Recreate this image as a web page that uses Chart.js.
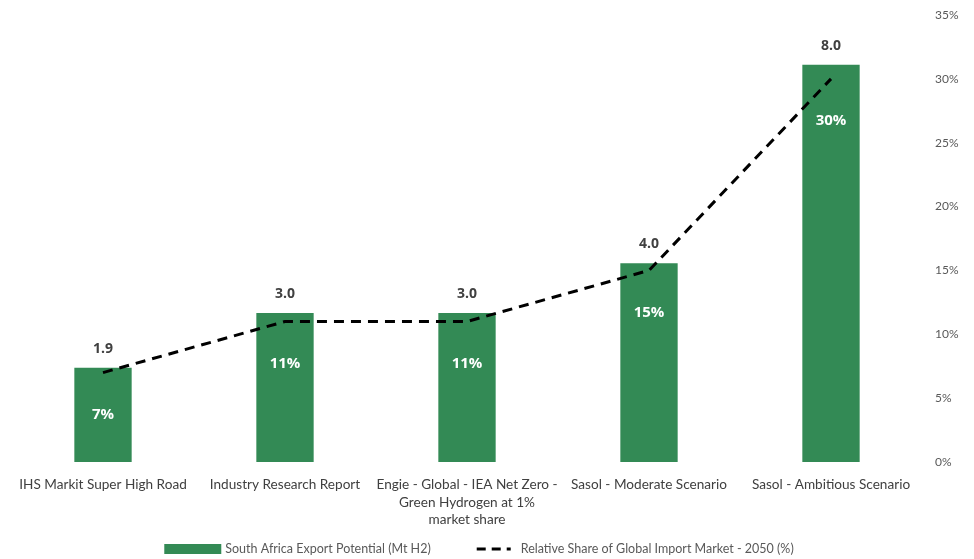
<!DOCTYPE html>
<html>
<head>
<meta charset="utf-8">
<script src="https://cdn.jsdelivr.net/npm/chart.js@4"></script>
<style>
  html, body { margin: 0; padding: 0; background: #fff; }
  #wrap { width: 974px; height: 559px; }
</style>
</head>
<body>
<div id="wrap"><canvas id="exportChart"></canvas></div>
<script>
const categories = [
    'IHS Markit Super High Road',
    'Industry Research Report',
    ['Engie - Global - IEA Net Zero -', 'Green Hydrogen at 1%', 'market share'],
    'Sasol - Moderate Scenario',
    'Sasol - Ambitious Scenario'
];
const exportPotential = [1.9, 3.0, 3.0, 4.0, 8.0];       // Mt H2
const importShare = [7, 11, 11, 15, 30];                 // % of global import market
const shareTicks = [0, 5, 10, 15, 20, 25, 30, 35];
const seriesNames = [
    'South Africa Export Potential (Mt H2)',
    'Relative Share of Global Import Market - 2050 (%)'
];

const green = '#338a55';

// value above each bar, share % inside the bar under the dashed line
const labelPlugin = {
    id: 'barLabels',
    afterDatasetsDraw(chart) {
        const ctx = chart.ctx;
        const bars = chart.getDatasetMeta(0).data;
        const pts = chart.getDatasetMeta(1).data;
        ctx.save();
        ctx.textAlign = 'center';
        ctx.textBaseline = 'middle';
        ctx.font = 'bold 14px "Open Sans"';
        ctx.fillStyle = '#404040';
        bars.forEach((bar, i) => {
            ctx.fillText(exportPotential[i].toFixed(1), bar.x, bar.y - 19);
        });
        ctx.font = 'bold 15px "Open Sans"';
        ctx.fillStyle = '#ffffff';
        pts.forEach((pt, i) => {
            ctx.fillText(importShare[i] + '%', pt.x, pt.y + 42);
        });
        ctx.restore();
    }
};

// bottom legend, spaced like the original (built-in one ties item gap to row height)
const legendPlugin = {
    id: 'bottomLegend',
    afterDraw(chart) {
        const ctx = chart.ctx;
        const y = chart.height - 10;
        ctx.save();
        ctx.font = '12.5px Lato';
        ctx.textBaseline = 'middle';
        ctx.textAlign = 'left';
        const w1 = ctx.measureText(seriesNames[0]).width;
        const w2 = ctx.measureText(seriesNames[1]).width;
        const total = 57 + 4 + w1 + 46 + 34 + 10 + w2;
        let x = chart.width / 2 - 8 - total / 2;

        ctx.fillStyle = green;
        ctx.fillRect(x, y - 5, 57, 10);
        x += 61;
        ctx.fillStyle = '#595959';
        ctx.fillText(seriesNames[0], x, y);
        x += w1 + 46;

        ctx.strokeStyle = '#000';
        ctx.lineWidth = 3;
        ctx.setLineDash([9, 6]);
        ctx.beginPath();
        ctx.moveTo(x, y);
        ctx.lineTo(x + 34, y);
        ctx.stroke();
        ctx.setLineDash([]);
        x += 44;
        ctx.fillText(seriesNames[1], x, y);
        ctx.restore();
    }
};

new Chart(document.getElementById('exportChart'), {
    type: 'bar',
    data: {
        labels: categories,
        datasets: [{
            label: seriesNames[0],
            data: exportPotential,
            backgroundColor: green,
            yAxisID: 'y',
            barPercentage: 0.63,
            categoryPercentage: 0.5,
            order: 2
        }, {
            type: 'line',
            label: seriesNames[1],
            data: importShare,
            borderColor: '#000000',
            borderWidth: 3,
            borderDash: [10, 7],
            pointRadius: 0,
            fill: false,
            tension: 0,
            yAxisID: 'y1',
            order: 1
        }]
    },
    options: {
        responsive: true,
        maintainAspectRatio: false,
        animation: false,
        layout: { padding: { left: 12, right: 0, top: 15, bottom: 31 } },
        plugins: {
            legend: { display: false },
            tooltip: { enabled: false }
        },
        scales: {
            x: {
                grid: { display: false, drawTicks: false },
                border: { display: false },
                ticks: {
                    color: '#404040',
                    font: { family: 'Lato', size: 13.6, lineHeight: 1.28 },
                    maxRotation: 0,
                    autoSkip: false,
                    padding: 14
                },
                afterFit(scale) { scale.height = 66; }
            },
            y: {
                display: false,
                min: 0,
                max: 9
            },
            y1: {
                position: 'right',
                min: 0,
                max: 35,
                grid: { display: false, drawTicks: false },
                border: { display: false },
                afterBuildTicks(scale) {
                    scale.ticks = shareTicks.map(v => ({ value: v }));
                },
                ticks: {
                    color: '#595959',
                    font: { family: 'Lato', size: 12 },
                    padding: 13,
                    callback: v => v + '%'
                },
                afterFit(scale) {
                    scale.width = 52;
                    scale.paddingTop = 0;
                    scale.paddingBottom = 0;
                }
            }
        }
    },
    plugins: [labelPlugin, legendPlugin]
});
</script>
</body>
</html>
